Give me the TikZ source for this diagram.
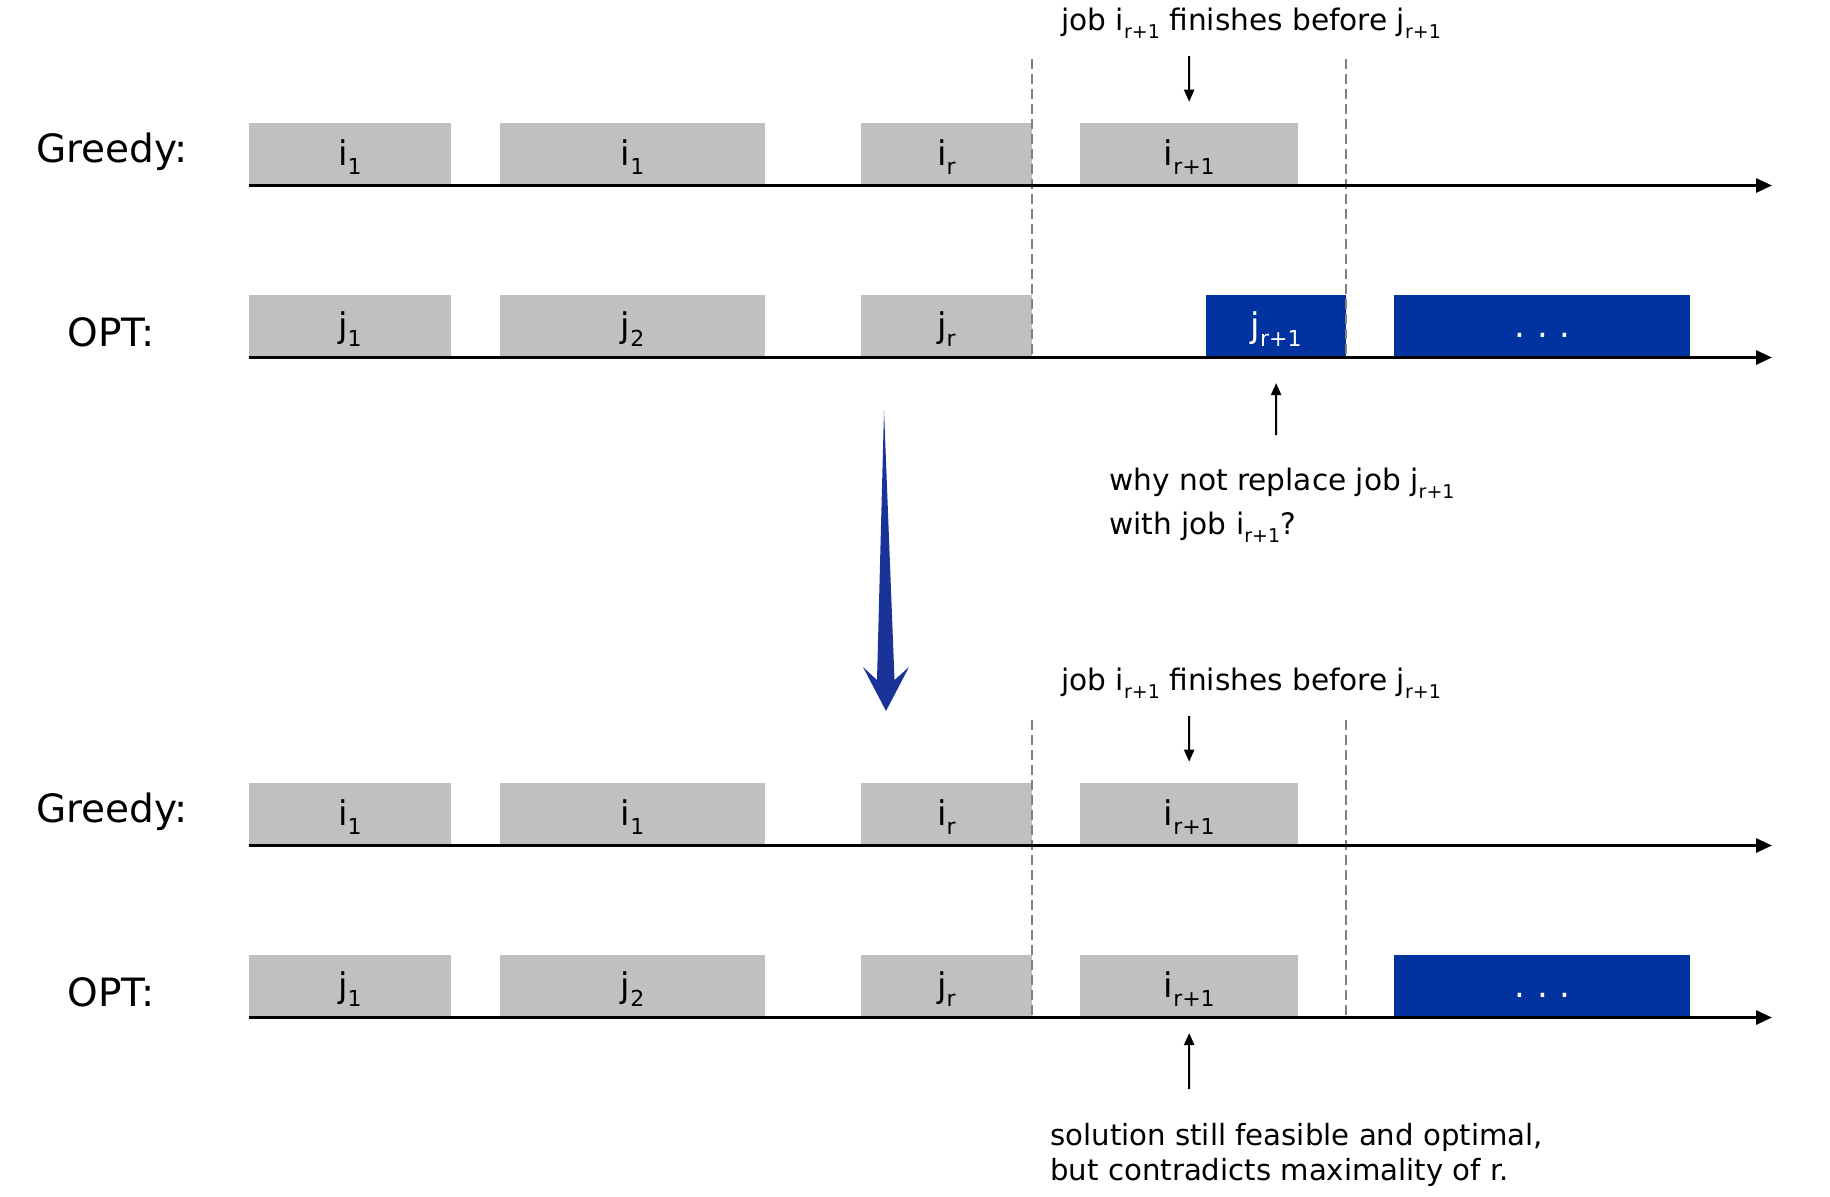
\documentclass[tikz,border=0pt]{standalone}
\usepackage{fontspec}
\setmainfont{DejaVu Sans}
\usetikzlibrary{arrows.meta}
\definecolor{boxgray}{RGB}{192,192,192}
\definecolor{jobblue}{RGB}{0,51,160}
\definecolor{arrowblue}{RGB}{26,51,153}
\definecolor{dashgray}{RGB}{128,128,128}
\newcommand\lab[2]{#1\raisebox{-0.5ex}{\fontsize{11}{11}\selectfont #2}}
\newcommand\csub[1]{\raisebox{-0.5ex}{\fontsize{9.5}{9.5}\selectfont #1}}
\begin{document}
\begin{tikzpicture}[x=0.5pt,y=-0.5pt,
  jbox/.style={draw=none, inner sep=0pt, anchor=south west, text height=21.1pt, text depth=9.15pt, font=\fontsize{17}{17}\selectfont},
  gray box/.style={jbox, fill=boxgray, text=black},
  blue box/.style={jbox, fill=jobblue, text=white},
  rowlabel/.style={anchor=base west, inner sep=0pt, font=\fontsize{19.5}{19.5}\selectfont},
  caption/.style={anchor=base west, inner sep=0pt, font=\fontsize{14.8}{14.8}\selectfont},
  axisline/.style={line width=1.5pt, -{Triangle[length=8pt,width=7pt]}},
  dashln/.style={dashgray, line width=1pt, dash pattern=on 5pt off 2.5pt},
  sarrow/.style={line width=1pt, -{Triangle[length=6pt,width=5pt]}}
]
\useasboundingbox (0,0) rectangle (1830,1196);

% ---------- top section ----------
\node[rowlabel] (g1) at (36,162) {Greedy:};
\node[rowlabel] (o1) at (67,346) {OPT:};

\node[gray box, minimum width=100.95pt] (g1a) at (248.5,184) {\lab{i}{1}};
\node[gray box, minimum width=132.15pt] (g1b) at (500,184) {\lab{i}{1}};
\node[gray box, minimum width=85.6pt] (g1r) at (860.5,184) {\lab{i}{r}};
\node[gray box, minimum width=108.85pt] (g1r1) at (1080,184) {\lab{i}{r+1}};

\node[gray box, minimum width=100.95pt] (o1a) at (248.5,356) {\lab{j}{1}};
\node[gray box, minimum width=132.15pt] (o1b) at (500,356) {\lab{j}{2}};
\node[gray box, minimum width=85.6pt] (o1r) at (860.5,356) {\lab{j}{r}};
\node[blue box, minimum width=69.8pt] (o1r1) at (1206,356) {\lab{j}{r+1}};
\node[blue box, minimum width=148pt] (o1d) at (1394,356) {.\,\,.\,\,.};

\coordinate (d1t) at (1031.7,59);
\coordinate (d1b) at (1031.7,357.5);
\coordinate (d2t) at (1345.6,59);
\coordinate (d2b) at (1345.6,357.5);
\draw[dashln] (d1t) -- (d1b);
\draw[dashln] (d2t) -- (d2b);

\coordinate (a1s) at (248.5,185.5);
\coordinate (a1e) at (1772,185.5);
\coordinate (a2s) at (248.5,357.5);
\coordinate (a2e) at (1772,357.5);
\draw[axisline] (a1s) -- (a1e);
\draw[axisline] (a2s) -- (a2e);

\node[caption] (c1) at (1061,30) {job i\csub{r+1} finishes before j\csub{r+1}};
\coordinate (c1a) at (1189,56);
\draw[sarrow, shorten >=10.5pt] (c1a) -- (g1r1.north);

\coordinate (w1a) at (1276,435);
\draw[sarrow, shorten >=13.5pt] (w1a) -- (o1r1.south);
\node[caption, align=left, font=\fontsize{14.8}{22}\selectfont] (why) at (1109,534)
  {why not replace job j\csub{r+1}\\with job i\csub{r+1}?};

% ---------- big blue arrow ----------
\fill[arrowblue] (884,410) -- (894.5,680) -- (909,667) -- (886,711) -- (863,667) -- (877,680) -- cycle;

% ---------- bottom section ----------
\node[rowlabel] (g2) at (36,822) {Greedy:};
\node[rowlabel] (o2) at (67,1006) {OPT:};

\node[gray box, minimum width=100.95pt] (g2a) at (248.5,844) {\lab{i}{1}};
\node[gray box, minimum width=132.15pt] (g2b) at (500,844) {\lab{i}{1}};
\node[gray box, minimum width=85.6pt] (g2r) at (860.5,844) {\lab{i}{r}};
\node[gray box, minimum width=108.85pt] (g2r1) at (1080,844) {\lab{i}{r+1}};

\node[gray box, minimum width=100.95pt] (o2a) at (248.5,1016) {\lab{j}{1}};
\node[gray box, minimum width=132.15pt] (o2b) at (500,1016) {\lab{j}{2}};
\node[gray box, minimum width=85.6pt] (o2r) at (860.5,1016) {\lab{j}{r}};
\node[gray box, minimum width=108.85pt] (o2r1) at (1080,1016) {\lab{i}{r+1}};
\node[blue box, minimum width=148pt] (o2d) at (1394,1016) {.\,\,.\,\,.};

\coordinate (d3t) at (1031.7,720);
\coordinate (d3b) at (1031.7,1017.5);
\coordinate (d4t) at (1345.6,720);
\coordinate (d4b) at (1345.6,1017.5);
\draw[dashln] (d3t) -- (d3b);
\draw[dashln] (d4t) -- (d4b);

\coordinate (a3s) at (248.5,845.5);
\coordinate (a3e) at (1772,845.5);
\coordinate (a4s) at (248.5,1017.5);
\coordinate (a4e) at (1772,1017.5);
\draw[axisline] (a3s) -- (a3e);
\draw[axisline] (a4s) -- (a4e);

\node[caption] (c2) at (1061,690) {job i\csub{r+1} finishes before j\csub{r+1}};
\coordinate (c2a) at (1189,716);
\draw[sarrow, shorten >=10.5pt] (c2a) -- (g2r1.north);

\coordinate (s1a) at (1189,1089);
\draw[sarrow, shorten >=8.5pt] (s1a) -- (o2r1.south);
\node[caption, align=left, font=\fontsize{14.6}{17.5}\selectfont] (sol) at (1050,1180)
  {solution still feasible and optimal,\\but contradicts maximality of r.};
\end{tikzpicture}
\end{document}
